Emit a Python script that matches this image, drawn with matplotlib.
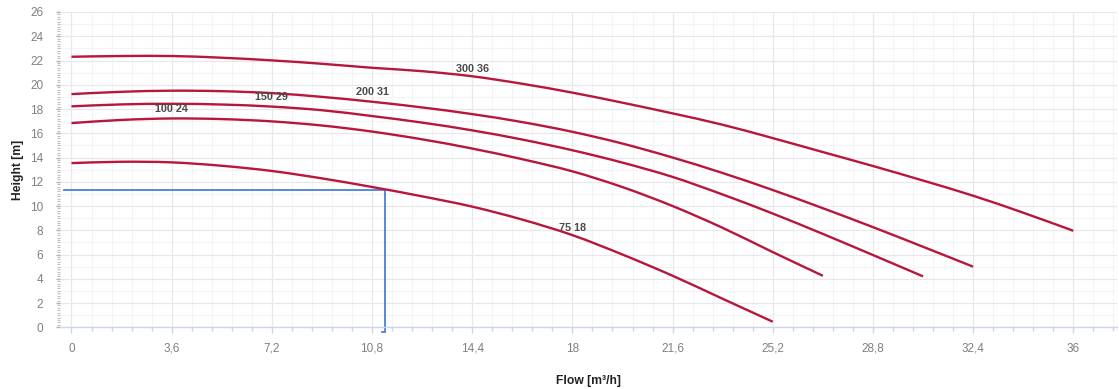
import matplotlib
matplotlib.use("Agg")
import matplotlib.pyplot as plt
from matplotlib.ticker import MultipleLocator, FuncFormatter
from matplotlib.path import Path
from matplotlib.patches import PathPatch

# ---- data ----
flow = [0, 1.8, 3.6, 5.4, 7.2, 9.0, 10.8, 12.6, 14.4, 16.2, 18.0,
        19.8, 21.6, 23.4, 25.2, 27.0, 28.8, 30.6, 32.4, 34.2, 36.0]

head_300_36 = [22.31, 22.37, 22.37, 22.23, 22.01, 21.73, 21.40, 21.12, 20.70, 20.08, 19.35,
               18.52, 17.64, 16.70, 15.60, 14.45, 13.30, 12.10, 10.85, 9.45, 7.96]
head_200_31 = [19.23, 19.42, 19.51, 19.47, 19.31, 19.00, 18.60, 18.13, 17.58, 16.92, 16.12,
               15.15, 14.00, 12.72, 11.32, 9.82, 8.26, 6.64, 5.00]
head_150_29 = [18.22, 18.38, 18.43, 18.37, 18.20, 17.90, 17.42, 16.88, 16.24, 15.48, 14.60,
               13.58, 12.40, 10.95, 9.38, 7.70, 5.96, 4.20]
head_100_24 = [16.84, 17.10, 17.22, 17.17, 16.98, 16.64, 16.14, 15.50, 14.74, 13.86, 12.86,
               11.56, 10.00, 8.20, 6.20, 4.25]
head_75_18 = [13.54, 13.65, 13.60, 13.32, 12.89, 12.28, 11.57, 10.80, 9.95, 8.88, 7.60,
              6.00, 4.25, 2.35, 0.46]

series_names = ["300 36", "200 31", "150 29", "100 24", "75 18"]
series_heads = [head_300_36, head_200_31, head_150_29, head_100_24, head_75_18]
label_flow = [14.4, 10.8, 7.2, 3.6, 18.0]
label_head = [21.3, 19.37, 19.0, 18.0, 8.16]

op_flow = 11.26
op_head = 11.32

x_ticks = [0, 3.6, 7.2, 10.8, 14.4, 18, 21.6, 25.2, 28.8, 32.4, 36]
y_ticks = list(range(0, 27, 2))


def spline_path(xs, ys):
    """Smooth (Catmull-Rom style) Bezier path through the given points."""
    n = len(xs)
    verts = [(xs[0], ys[0])]
    codes = [Path.MOVETO]
    for i in range(n - 1):
        x0, y0 = (xs[i - 1], ys[i - 1]) if i > 0 else (xs[i], ys[i])
        x1, y1 = xs[i], ys[i]
        x2, y2 = xs[i + 1], ys[i + 1]
        x3, y3 = (xs[i + 2], ys[i + 2]) if i + 2 < n else (x2, y2)
        c1 = (x1 + (x2 - x0) / 6.0, y1 + (y2 - y0) / 6.0)
        c2 = (x2 - (x3 - x1) / 6.0, y2 - (y3 - y1) / 6.0)
        verts += [c1, c2, (x2, y2)]
        codes += [Path.CURVE4] * 3
    return Path(verts, codes)


# ---- figure ----
W, H = 1119, 389
fig = plt.figure(figsize=(W / 100, H / 100), dpi=100)
left, right, top, bottom = 60, 1117, 12, 327.3
ax = fig.add_axes([left / W, 1 - bottom / H, (right - left) / W, (bottom - top) / H])

xmin, xmax = -0.413, 37.57
ax.set_xlim(xmin, xmax)
ax.set_ylim(0, 26)

curve_color = "#b8163b"
for heads in series_heads:
    p = spline_path(flow[:len(heads)], heads)
    ax.add_patch(PathPatch(p, facecolor="none", edgecolor=curve_color, lw=1.7,
                           capstyle="butt", zorder=3))

for name, lx, ly in zip(series_names, label_flow, label_head):
    ax.text(lx, ly, name, ha="center", va="center", fontsize=7.8, fontweight="bold",
            color="#4a4a4a", family=["Liberation Sans", "DejaVu Sans"], zorder=4)

# operating point lines
blue = "#4a7fd8"
x_start = xmin + 0.14
y_end = -0.36
ax.plot([x_start, op_flow, op_flow, op_flow - 0.11], [op_head, op_head, y_end, y_end],
        color=blue, lw=1.3, clip_on=False, zorder=2, solid_joinstyle="miter")

# grid & ticks
ax.xaxis.set_major_locator(plt.FixedLocator(x_ticks))
ax.xaxis.set_minor_locator(MultipleLocator(0.72))
ax.yaxis.set_major_locator(plt.FixedLocator(y_ticks))
ax.yaxis.set_minor_locator(MultipleLocator(0.2))

ax.xaxis.set_major_formatter(FuncFormatter(lambda v, p: ("%g" % round(v, 1)).replace(".", ",")))
ax.yaxis.set_major_formatter(FuncFormatter(lambda v, p: "%d" % v))

ax.grid(True, which="major", axis="both", color="#e8e8ec", lw=0.9, zorder=0)
ax.grid(True, which="minor", axis="x", color="#f4f4f6", lw=0.8, zorder=0)
for yv in range(1, 26, 2):
    ax.axhline(yv, color="#f4f4f6", lw=0.8, zorder=0)

for s in ["top", "right", "left"]:
    ax.spines[s].set_visible(False)
ax.spines["bottom"].set_color("#ccd6eb")
ax.spines["bottom"].set_linewidth(1.0)

tick_font = ["Liberation Sans", "DejaVu Sans"]
ax.tick_params(axis="x", which="major", length=4, width=1, color="#ccd6eb",
               labelsize=8.5, labelcolor="#808080", pad=7)
ax.tick_params(axis="x", which="minor", length=3, width=1, color="#ccd6eb")
ax.tick_params(axis="y", which="major", length=3, width=1, color="#b0b0b0",
               labelsize=8.5, labelcolor="#808080", pad=9)
ax.tick_params(axis="y", which="minor", length=2.5, width=0.8, color="#c0c0c0")
for lab in ax.get_xticklabels() + ax.get_yticklabels():
    lab.set_family(tick_font)

ax.set_xlabel("Flow [m³/h]", fontsize=8.7, fontweight="bold", color="#222222",
              family=tick_font, va="center")
ax.set_ylabel("Height [m]", fontsize=8.7, fontweight="bold", color="#222222",
              family=tick_font, va="center")
ax.xaxis.set_label_coords(0.5, (bottom - 381) / (bottom - top))
ax.yaxis.set_label_coords((18 - left) / (right - left), 0.5)

fig.savefig("out.png", dpi=100, facecolor="white")
